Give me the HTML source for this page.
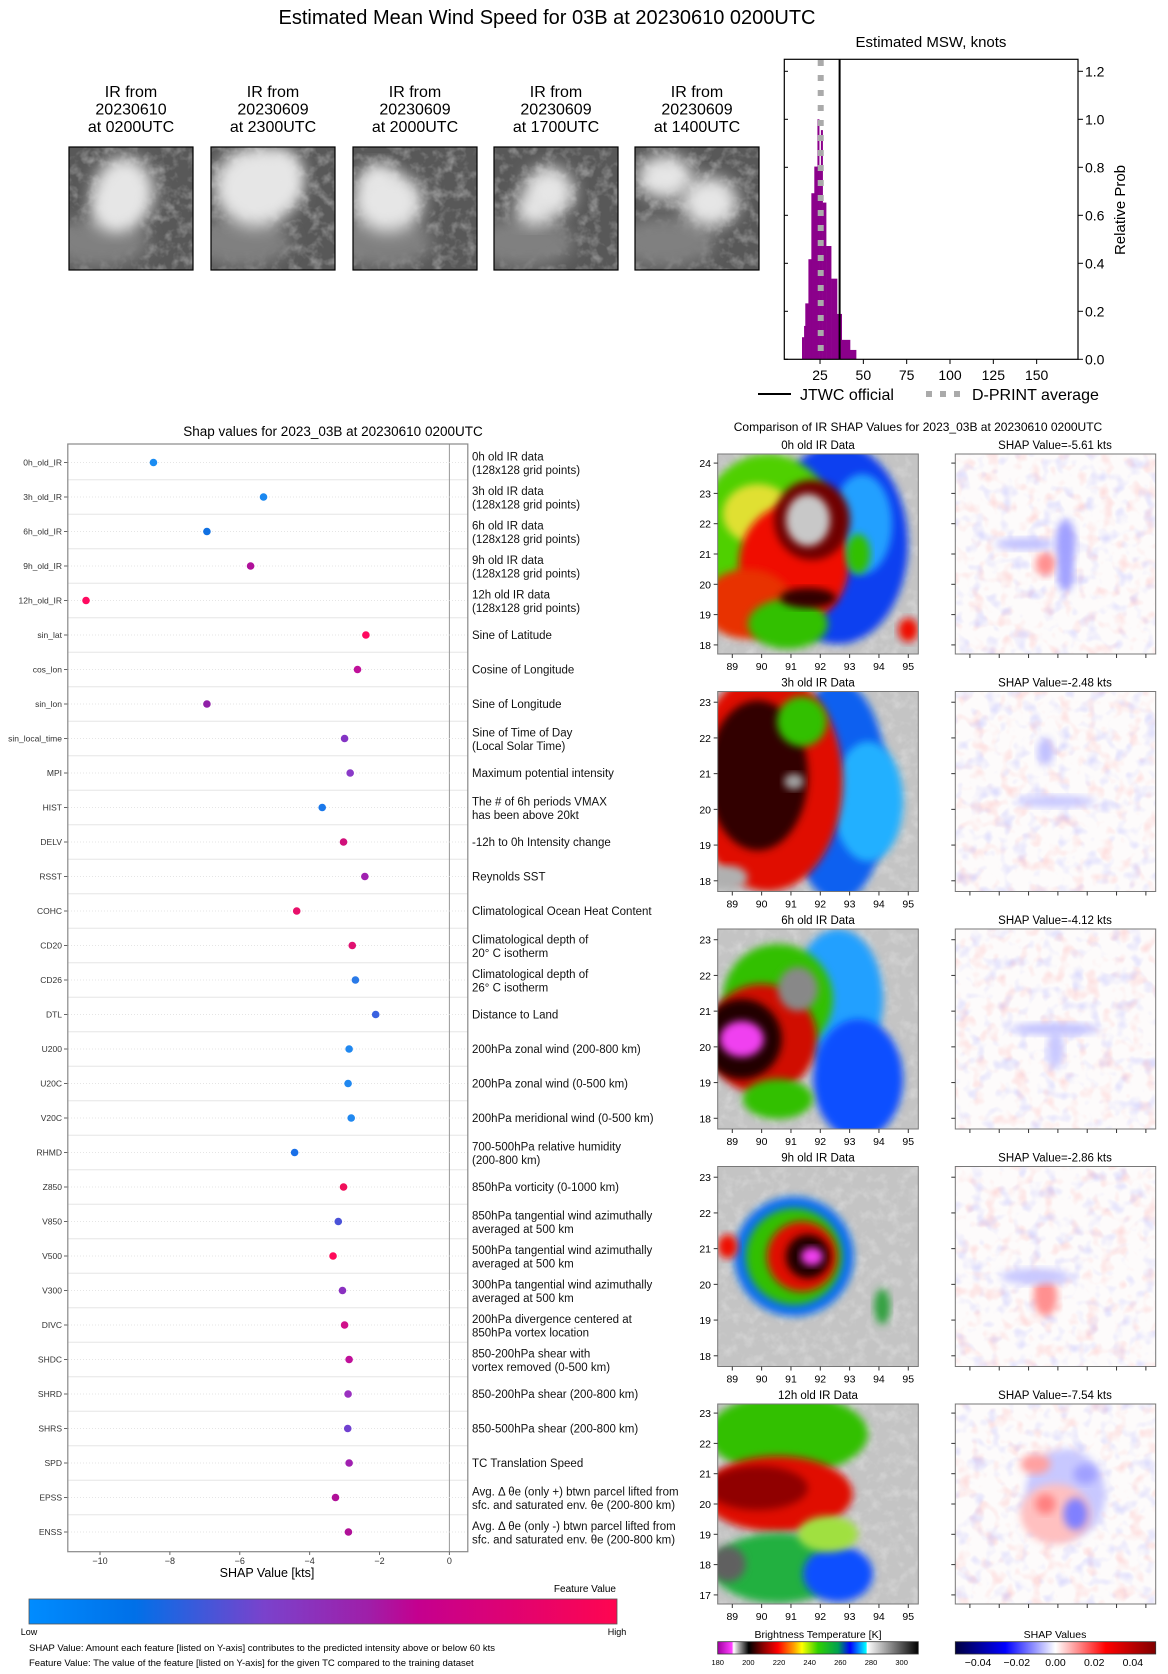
<!DOCTYPE html>
<html><head><meta charset="utf-8"><style>
body{margin:0;background:#fff;}
svg{display:block;font-family:"Liberation Sans","DejaVu Sans",sans-serif;}
</style></head><body>
<svg id="fig" width="1168" height="1674" viewBox="0 0 1168 1674" xmlns="http://www.w3.org/2000/svg">
<defs>
<filter id="b4" x="-20%" y="-20%" width="140%" height="140%"><feGaussianBlur stdDeviation="4"/></filter>
<filter id="b8" x="-30%" y="-30%" width="160%" height="160%"><feGaussianBlur stdDeviation="8"/></filter>
<filter id="noiseR" x="0" y="0" width="100%" height="100%"><feTurbulence type="fractalNoise" baseFrequency="0.07" numOctaves="2" seed="3"/><feColorMatrix type="matrix" values="0 0 0 0 1  0 0 0 0 0.35  0 0 0 0 0.35  3 0 0 0 -1.55"/></filter>
<filter id="noiseB" x="0" y="0" width="100%" height="100%"><feTurbulence type="fractalNoise" baseFrequency="0.07" numOctaves="2" seed="9"/><feColorMatrix type="matrix" values="0 0 0 0 0.35  0 0 0 0 0.35  0 0 0 0 1  0 3 0 0 -1.55"/></filter>
<filter id="noiseG" x="0" y="0" width="100%" height="100%"><feTurbulence type="fractalNoise" baseFrequency="0.09" numOctaves="3" seed="5"/><feColorMatrix type="matrix" values="0 0 0 0 0.9  0 0 0 0 0.9  0 0 0 0 0.9  2.5 0 0 0 -1.1"/></filter>
<linearGradient id="featgrad" x1="0" x2="1" y1="0" y2="0">
<stop offset="0" stop-color="#008cff"/><stop offset="0.18" stop-color="#0070e8"/><stop offset="0.4" stop-color="#7a42cc"/><stop offset="0.58" stop-color="#a01ea8"/><stop offset="0.66" stop-color="#c4008f"/><stop offset="1" stop-color="#ff0550"/>
</linearGradient>
<linearGradient id="irgrad" x1="0" x2="1">
<stop offset="0" stop-color="#a000a0"/><stop offset="0.07" stop-color="#ff40ff"/><stop offset="0.08" stop-color="#ffffff"/><stop offset="0.155" stop-color="#000"/><stop offset="0.23" stop-color="#900000"/><stop offset="0.3" stop-color="#ff0000"/><stop offset="0.38" stop-color="#ffa000"/><stop offset="0.42" stop-color="#ffff00"/><stop offset="0.5" stop-color="#30d000"/><stop offset="0.6" stop-color="#00a050"/><stop offset="0.66" stop-color="#0000ff"/><stop offset="0.74" stop-color="#00ffff"/><stop offset="0.745" stop-color="#ffffff"/><stop offset="1" stop-color="#000"/>
</linearGradient>
<linearGradient id="shapgrad" x1="0" x2="1">
<stop offset="0" stop-color="#000040"/><stop offset="0.25" stop-color="#0000ff"/><stop offset="0.5" stop-color="#ffffff"/><stop offset="0.75" stop-color="#ff0000"/><stop offset="1" stop-color="#800000"/>
</linearGradient>
</defs>
<text x="547" y="24" font-size="20" text-anchor="middle">Estimated Mean Wind Speed for 03B at 20230610 0200UTC</text>
<g id="thumbs"></g>
<g id="hist"></g>
<g id="shap"></g>
<g id="maps"></g>
</svg>
<script>
const NS="http://www.w3.org/2000/svg";
function mk(p,tag,a,txt){const e=document.createElementNS(NS,tag);for(const k in a)e.setAttribute(k,a[k]);if(txt!==undefined)e.textContent=txt;p.appendChild(e);return e;}

// ---------- Thumbnails ----------
const thumbTitles=[["IR from","20230610","at 0200UTC"],["IR from","20230609","at 2300UTC"],["IR from","20230609","at 2000UTC"],["IR from","20230609","at 1700UTC"],["IR from","20230609","at 1400UTC"]];
const thumbBlobs=[[[55,45,30,35],[45,62,22,22]],[[45,40,42,40],[70,30,22,28]],[[35,55,35,30],[25,35,18,18]],[[55,45,25,25],[40,62,18,16]],[[30,30,28,22],[75,55,28,25]]];
const TG=document.getElementById('thumbs');
const thumbX=[69,211,353,494,635];
thumbX.forEach((x,i)=>{
  thumbTitles[i].forEach((t,j)=>{const e=mk(TG,'text',{x:x+62,y:97+j*17.5,'font-size':16,'text-anchor':'middle'},t);
    
    });
  const cid='tc'+i;const cp=mk(TG,'clipPath',{id:cid});mk(cp,'rect',{x:x,y:147,width:124,height:123});
  const g=mk(TG,'g',{'clip-path':'url(#'+cid+')'});
  
  
  mk(g,'rect',{x:x,y:147,width:124,height:123,fill:'#585858'});
  mk(g,'rect',{x:x,y:147,width:124,height:123,fill:'#000',filter:'url(#noiseG)',opacity:0.35});
  mk(g,'ellipse',{cx:x+30,cy:147+95,rx:50,ry:25,fill:'#808080',filter:'url(#b8)'});
  thumbBlobs[i].forEach(b=>mk(g,'ellipse',{cx:x+b[0],cy:147+b[1],rx:b[2],ry:b[3],fill:'#e6e6e6',filter:'url(#b8)'}));
  mk(TG,'rect',{x:x,y:147,width:124,height:123,fill:'none',stroke:'#000','stroke-width':1.2});
});

// ---------- Histogram ----------
const binEdges=[14.6,15.8,16.5,18.3,20.0,21.7,23.5,24.5,25.5,26.5,28.5,31.4,34.8,37.5,42.3,45.8];
const binProbs=[0.092,0.139,0.233,0.417,0.692,0.803,1.0,0.80,0.955,0.653,0.472,0.336,0.189,0.081,0.039];
const jtwcValue=[36.3];
const dprintValue=[25.4];
const histXTicks=[25,50,75,100,125,150];
const histYTicks=[0.0,0.2,0.4,0.6,0.8,1.0,1.2];
const HG=document.getElementById('hist');
const hx=v=>776.7+v*1.733, hy=p=>359.3-p*240;
mk(HG,'text',{x:931,y:47,'font-size':15,'text-anchor':'middle'},'Estimated MSW, knots');
binProbs.forEach((p,i)=>{const r=mk(HG,'rect',{x:hx(binEdges[i]),y:hy(p),width:hx(binEdges[i+1])-hx(binEdges[i])+0.3,height:hy(0)-hy(p),fill:'#8b008b'});
  
  });
const dl=mk(HG,'line',{x1:hx(dprintValue[0]),x2:hx(dprintValue[0]),y1:60,y2:359,stroke:'#aaa','stroke-width':6,'stroke-dasharray':'6 9'});


const jl=mk(HG,'line',{x1:hx(jtwcValue[0]),x2:hx(jtwcValue[0]),y1:59,y2:359,stroke:'#000','stroke-width':2});


mk(HG,'rect',{x:784.3,y:59.3,width:293.7,height:300,fill:'none',stroke:'#000','stroke-width':1.2});
histXTicks.forEach(t=>{mk(HG,'line',{x1:hx(t),x2:hx(t),y1:359.3,y2:364,stroke:'#000'});
  const e=mk(HG,'text',{x:hx(t),y:380,'font-size':14,'text-anchor':'middle'},String(t));
  
  });
histYTicks.forEach(t=>{mk(HG,'line',{x1:1078,x2:1083,y1:hy(t),y2:hy(t),stroke:'#000'});mk(HG,'line',{x1:784.3,x2:788,y1:hy(t),y2:hy(t),stroke:'#000'});
  const e=mk(HG,'text',{x:1085,y:hy(t)+5,'font-size':14},t.toFixed(1));
  
  });
mk(HG,'text',{x:1125,y:210,'font-size':15,'text-anchor':'middle',transform:'rotate(-90 1125 210)'},'Relative Prob');
mk(HG,'line',{x1:758,x2:791,y1:394,y2:394,stroke:'#000','stroke-width':2});
mk(HG,'text',{x:800,y:400,'font-size':16},'JTWC official');
mk(HG,'line',{x1:926,x2:960,y1:394,y2:394,stroke:'#aaa','stroke-width':6,'stroke-dasharray':'6 8'});
mk(HG,'text',{x:972,y:400,'font-size':16},'D-PRINT average');

// ---------- SHAP chart ----------
const featNames=["0h_old_IR","3h_old_IR","6h_old_IR","9h_old_IR","12h_old_IR","sin_lat","cos_lon","sin_lon","sin_local_time","MPI","HIST","DELV","RSST","COHC","CD20","CD26","DTL","U200","U20C","V20C","RHMD","Z850","V850","V500","V300","DIVC","SHDC","SHRD","SHRS","SPD","EPSS","ENSS"];
const shapValues=[-8.47,-5.32,-6.94,-5.69,-10.4,-2.39,-2.63,-6.94,-3.0,-2.84,-3.64,-3.03,-2.42,-4.37,-2.78,-2.69,-2.11,-2.87,-2.9,-2.81,-4.43,-3.03,-3.18,-3.33,-3.06,-3.0,-2.87,-2.9,-2.91,-2.87,-3.26,-2.89];
const featColors=["#1a8cf2","#1a88f0","#1070e2","#b0109a","#ff0a60","#ff0a60","#c0109a","#9020a8","#8434c4","#8a3ac8","#1a78ea","#d0107a","#a020b0","#e8106a","#e01070","#2a7ae8","#3a62e0","#2088f0","#2088f0","#2088f0","#1a70e8","#f0105a","#4a52d8","#ff0a5a","#8a30c0","#d0108a","#c0109a","#9a30c0","#7040d0","#a020b0","#b01098","#b01098"];
const featDesc=[["0h old IR data","(128x128 grid points)"],["3h old IR data","(128x128 grid points)"],["6h old IR data","(128x128 grid points)"],["9h old IR data","(128x128 grid points)"],["12h old IR data","(128x128 grid points)"],["Sine of Latitude"],["Cosine of Longitude"],["Sine of Longitude"],["Sine of Time of Day","(Local Solar Time)"],["Maximum potential intensity"],["The # of 6h periods VMAX","has been above 20kt"],["-12h to 0h Intensity change"],["Reynolds SST"],["Climatological Ocean Heat Content"],["Climatological depth of","20° C isotherm"],["Climatological depth of","26° C isotherm"],["Distance to Land"],["200hPa zonal wind (200-800 km)"],["200hPa zonal wind (0-500 km)"],["200hPa meridional wind (0-500 km)"],["700-500hPa relative humidity","(200-800 km)"],["850hPa vorticity (0-1000 km)"],["850hPa tangential wind azimuthally","averaged at 500 km"],["500hPa tangential wind azimuthally","averaged at 500 km"],["300hPa tangential wind azimuthally","averaged at 500 km"],["200hPa divergence centered at","850hPa vortex location"],["850-200hPa shear with","vortex removed (0-500 km)"],["850-200hPa shear (200-800 km)"],["850-500hPa shear (200-800 km)"],["TC Translation Speed"],["Avg. Δ θe (only +) btwn parcel lifted from","sfc. and saturated env. θe (200-800 km)"],["Avg. Δ θe (only -) btwn parcel lifted from","sfc. and saturated env. θe (200-800 km)"]];
const shapXTicks=[-10,-8,-6,-4,-2,0];
const SG=document.getElementById('shap');
const sx=v=>449.4+v*34.94, sy=i=>462.5+i*34.5;
mk(SG,'text',{x:333,y:436,'font-size':13.5,'text-anchor':'middle'},'Shap values for 2023_03B at 20230610 0200UTC');
for(let i=1;i<featNames.length;i++){mk(SG,'line',{x1:68,x2:468,y1:sy(i)-17.25,y2:sy(i)-17.25,stroke:'#e6e6e6','stroke-width':1});}
mk(SG,'line',{x1:449.4,x2:449.4,y1:444,y2:1552,stroke:'#999','stroke-width':1});
featNames.forEach((n,i)=>{
  mk(SG,'line',{x1:68,x2:468,y1:sy(i),y2:sy(i),stroke:'#ddd','stroke-width':0.8,'stroke-dasharray':'1 2'});
  const l=mk(SG,'text',{x:62,y:sy(i)+3,'font-size':8.5,'text-anchor':'end',fill:'#333'},n);
  
  
  mk(SG,'line',{x1:64,x2:68,y1:sy(i),y2:sy(i),stroke:'#666'});
  const c=mk(SG,'circle',{cx:sx(shapValues[i]),cy:sy(i),r:3.8,fill:featColors[i]});
  
  
  const d=featDesc[i];
  d.forEach((t,j)=>{const yy=d.length===1?sy(i)+4:sy(i)-2+j*13.5;
    const e=mk(SG,'text',{x:472,y:yy,'font-size':11.5,fill:'#111'},t);
    
    });
});
mk(SG,'rect',{x:67.8,y:444,width:400,height:1107.7,fill:'none',stroke:'#888','stroke-width':1.2});
shapXTicks.forEach(t=>{mk(SG,'line',{x1:sx(t),x2:sx(t),y1:1551.7,y2:1555,stroke:'#666'});
  const e=mk(SG,'text',{x:sx(t),y:1564,'font-size':9,'text-anchor':'middle',fill:'#333'},t===0?'0':'−'+Math.abs(t));
  
  });
mk(SG,'text',{x:267,y:1577,'font-size':12.5,'text-anchor':'middle'},'SHAP Value [kts]');
mk(SG,'text',{x:616,y:1592,'font-size':10,'text-anchor':'end'},'Feature Value');
const fcb=mk(SG,'rect',{x:29,y:1599,width:588,height:25,fill:'url(#featgrad)',stroke:'#555','stroke-width':0.8});


mk(SG,'text',{x:29,y:1635,'font-size':9,'text-anchor':'middle'},'Low');
mk(SG,'text',{x:617,y:1635,'font-size':9,'text-anchor':'middle'},'High');
mk(SG,'text',{x:29,y:1651,'font-size':9.5},'SHAP Value: Amount each feature [listed on Y-axis] contributes to the predicted intensity above or below 60 kts');
mk(SG,'text',{x:29,y:1666,'font-size':9.5},'Feature Value: The value of the feature [listed on Y-axis] for the given TC compared to the training dataset');

// ---------- IR / SHAP maps ----------
const MG=document.getElementById('maps');
mk(MG,'text',{x:918,y:431,'font-size':12,'text-anchor':'middle'},'Comparison of IR SHAP Values for 2023_03B at 20230610 0200UTC');
const panelTitles=["0h old IR Data","3h old IR Data","6h old IR Data","9h old IR Data","12h old IR Data"];
const shapTitles=["SHAP Value=-5.61 kts","SHAP Value=-2.48 kts","SHAP Value=-4.12 kts","SHAP Value=-2.86 kts","SHAP Value=-7.54 kts"];
const latTicks=[[18,19,20,21,22,23,24],[18,19,20,21,22,23],[18,19,20,21,22,23],[18,19,20,21,22,23],[17,18,19,20,21,22,23]];
const lonTicks=[89,90,91,92,93,94,95];
const panelTop=[454,691.5,929,1166.5,1404];
const panelH=[200,200,200,200,200];
const irBlobs=[
 [[0.6,0.45,70,100,'#0a40f0'],[0.72,0.35,30,50,'#20a0ff'],[0.25,0.4,70,80,'#50d000'],[0.2,0.3,35,30,'#e0e030'],[0.38,0.55,55,60,'#f01000'],[0.15,0.75,45,35,'#e83000'],[0.35,0.85,40,25,'#30c000'],[0.47,0.33,38,40,'#700000'],[0.45,0.33,22,26,'#c8c8c8'],[0.45,0.72,28,10,'#300000'],[0.7,0.5,12,20,'#30c000'],[0.95,0.88,10,12,'#f01000']],
 [[0.6,0.5,50,110,'#0a60f0'],[0.75,0.55,35,60,'#20b0ff'],[0.25,0.45,75,110,'#e01000'],[0.2,0.42,50,75,'#300000'],[0.38,0.45,10,8,'#a0a0a0'],[0.05,0.93,20,12,'#b0b0b0'],[0.42,0.15,25,25,'#30c000']],
 [[0.6,0.35,45,70,'#20a0ff'],[0.7,0.75,45,60,'#1050ff'],[0.3,0.35,55,55,'#30c000'],[0.22,0.55,55,55,'#d01000'],[0.12,0.55,40,40,'#200000'],[0.12,0.55,22,18,'#f040f0'],[0.4,0.3,20,22,'#888'],[0.3,0.85,35,20,'#30c000']],
 [[0.38,0.45,60,60,'#1070f0'],[0.38,0.45,48,48,'#30c000'],[0.42,0.45,35,35,'#e01000'],[0.45,0.45,22,22,'#200000'],[0.47,0.45,11,9,'#f040f0'],[0.82,0.7,8,18,'#30a040'],[0.05,0.4,10,12,'#f01000']],
 [[0.35,0.15,80,40,'#30c000'],[0.3,0.45,75,38,'#e01000'],[0.2,0.42,50,22,'#900000'],[0.3,0.82,65,35,'#20b040'],[0.6,0.85,35,28,'#1050ff'],[0.05,0.8,18,18,'#606060'],[0.55,0.65,30,18,'#a0e040']]
];
const shapBlobs=[
 [[0.55,0.45,10,25,'#a0a0ff'],[0.45,0.55,10,12,'#ff9090'],[0.55,0.6,8,18,'#a0a0ff'],[0.35,0.45,30,6,'#c0c0ff']],
 [[0.5,0.55,40,6,'#c8c8ff'],[0.45,0.3,8,14,'#c0c0ff']],
 [[0.5,0.5,45,6,'#c0c0ff'],[0.5,0.6,8,20,'#c8c8ff']],
 [[0.45,0.65,12,20,'#ff9090'],[0.4,0.55,35,8,'#c8c8ff']],
 [[0.55,0.45,40,45,'#c8c8ff'],[0.5,0.55,35,30,'#ffc0c0'],[0.6,0.55,12,16,'#8080ff'],[0.45,0.5,10,10,'#ff8080'],[0.4,0.3,15,10,'#ffa0a0'],[0.65,0.35,12,10,'#a0a0ff']]
];
function drawMap(x0,y0,w,h,blobs,bg,id,blur,noise){
  const cp=mk(MG,'clipPath',{id:id});mk(cp,'rect',{x:x0,y:y0,width:w,height:h});
  const g=mk(MG,'g',{'clip-path':'url(#'+id+')'});
  mk(g,'rect',{x:x0,y:y0,width:w,height:h,fill:bg});
  if(noise){mk(g,'rect',{x:x0,y:y0,width:w,height:h,fill:'#000',filter:'url(#noiseR)',opacity:0.3});
    mk(g,'rect',{x:x0,y:y0,width:w,height:h,fill:'#000',filter:'url(#noiseB)',opacity:0.3});}
  else mk(g,'rect',{x:x0,y:y0,width:w,height:h,fill:'#000',filter:'url(#noiseG)',opacity:0.3});
  blobs.forEach(b=>mk(g,'ellipse',{cx:x0+b[0]*w,cy:y0+b[1]*h,rx:b[2],ry:b[3],fill:b[4],filter:blur}));
  mk(MG,'rect',{x:x0,y:y0,width:w,height:h,fill:'none',stroke:'#777','stroke-width':1});
  return g;
}
panelTitles.forEach((t,i)=>{
  const top=panelTop[i],h=panelH[i];
  mk(MG,'text',{x:818,y:top-5,'font-size':11.5,'text-anchor':'middle'},t);
  mk(MG,'text',{x:1055,y:top-5,'font-size':11.5,'text-anchor':'middle'},shapTitles[i]);
  const g1=drawMap(717.7,top,200.6,h,irBlobs[i],'#c4c4c4','irc'+i,'url(#b4)',false);
  
  
  const g2=drawMap(955.3,top,200.4,h,shapBlobs[i],'#fdfbfb','shc'+i,'url(#b4)',true);
  
  
  const lt=latTicks[i];const lo=lt[0]-0.3,hi=lt[lt.length-1]+0.3;
  lt.forEach(v=>{const yy=top+h-(v-lo)/(hi-lo)*h;
    mk(MG,'line',{x1:713.7,x2:717.7,y1:yy,y2:yy,stroke:'#333'});mk(MG,'line',{x1:951.3,x2:955.3,y1:yy,y2:yy,stroke:'#333'});
    const e=mk(MG,'text',{x:711,y:yy+4,'font-size':10.5,'text-anchor':'end'},String(v));
    
    });
  lonTicks.forEach(v=>{const xx=732.3+(v-89)*29.33;
    mk(MG,'line',{x1:xx,x2:xx,y1:top+h,y2:top+h+4,stroke:'#333'});mk(MG,'line',{x1:xx+237.6,x2:xx+237.6,y1:top+h,y2:top+h+4,stroke:'#333'});
    const e=mk(MG,'text',{x:xx,y:top+h+16,'font-size':10.5,'text-anchor':'middle'},String(v));
    
    });
});
mk(MG,'text',{x:818,y:1638,'font-size':10.5,'text-anchor':'middle'},'Brightness Temperature [K]');
const ib=mk(MG,'rect',{x:717.7,y:1641.7,width:200.6,height:12.3,fill:'url(#irgrad)',stroke:'#333','stroke-width':0.8});


[180,200,220,240,260,280,300].forEach(v=>{const e=mk(MG,'text',{x:717.7+(v-180)*1.533,y:1665,'font-size':7.5,'text-anchor':'middle'},String(v));
  
  });
mk(MG,'text',{x:1055,y:1638,'font-size':10.5,'text-anchor':'middle'},'SHAP Values');
const sb=mk(MG,'rect',{x:955.3,y:1641.7,width:200.4,height:12.3,fill:'url(#shapgrad)',stroke:'#333','stroke-width':0.8});


[-0.04,-0.02,0,0.02,0.04].forEach(v=>{const e=mk(MG,'text',{x:1055.5+v*1935,y:1666,'font-size':10.5,'text-anchor':'middle'},(v<0?'−':'')+Math.abs(v).toFixed(2));
  
  });
</script>
</body></html>
